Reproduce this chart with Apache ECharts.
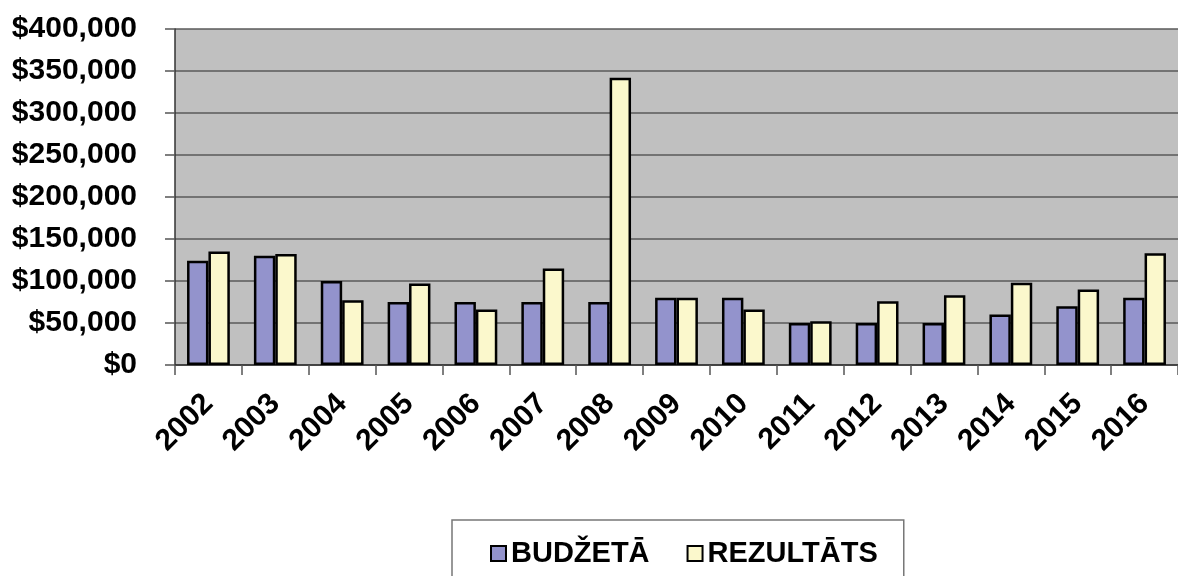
<!DOCTYPE html>
<html>
<head>
<meta charset="utf-8">
<script src="https://cdn.jsdelivr.net/npm/echarts@6/dist/echarts.min.js"></script>
<style>
html,body{margin:0;padding:0;background:#fff;}
#chart{width:1178px;height:576px;}
</style>
</head>
<body>
<div id="chart"></div>
<script>
const years = ['2002','2003','2004','2005','2006','2007','2008','2009','2010','2011','2012','2013','2014','2015','2016'];
const budzeta = [124000,130000,100000,75000,75000,75000,75000,80000,80000,50000,50000,50000,60000,70000,80000];
const rezultats = [135000,132000,77000,97000,66000,115000,342000,80000,66000,52000,76000,83000,98000,90000,133000];
const seriesNames = ['BUDŽETĀ','REZULTĀTS'];
const yMin = 0, yMax = 400000, yStep = 50000;

const chart = echarts.init(document.getElementById('chart'));
const font = "'Liberation Sans', Arial, sans-serif";
chart.setOption({
  animation: false,
  backgroundColor: '#ffffff',
  grid: {left: 175, right: 0, top: 29, bottom: 211, show: true, backgroundColor: '#c0c0c0', borderWidth: 0},
  xAxis: {
    type: 'category',
    data: years,
    boundaryGap: true,
    axisLine: {lineStyle: {color: '#333', width: 1.5}},
    axisTick: {show: true, length: 10, lineStyle: {color: '#555', width: 1.5}},
    axisLabel: {rotate: 45, margin: 34, color: '#000', fontSize: 30, fontWeight: 'bold', fontFamily: font, interval: 0},
    splitLine: {show: false}
  },
  yAxis: {
    type: 'value',
    min: yMin, max: yMax, interval: yStep,
    axisLine: {show: true, lineStyle: {color: '#333', width: 1.5}},
    axisTick: {show: true, length: 10, lineStyle: {color: '#555', width: 1.5}},
    axisLabel: {
      margin: 38, color: '#000', fontSize: 30, fontWeight: 'bold', fontFamily: font,
      formatter: v => '$' + v.toLocaleString('en-US')
    },
    splitLine: {show: true, lineStyle: {color: '#5a5a5a', width: 1.5}}
  },
  legend: {
    data: seriesNames,
    left: 452, top: 520,
    padding: [19, 26, 40, 38],
    borderColor: '#777', borderWidth: 1.5,
    itemWidth: 15, itemHeight: 15, itemGap: 37,
    icon: 'rect',
    textStyle: {fontSize: 29, fontWeight: 'bold', color: '#000', fontFamily: font}
  },
  series: [
    {name: seriesNames[0], type: 'bar', data: budzeta, barGap: '0%', barCategoryGap: '36%',
     itemStyle: {color: '#9393cc', borderColor: '#000', borderWidth: 2.5}},
    {name: seriesNames[1], type: 'bar', data: rezultats, barGap: '0%', barCategoryGap: '36%',
     itemStyle: {color: '#fbf8cc', borderColor: '#000', borderWidth: 2.5}}
  ]
});
</script>
</body>
</html>
